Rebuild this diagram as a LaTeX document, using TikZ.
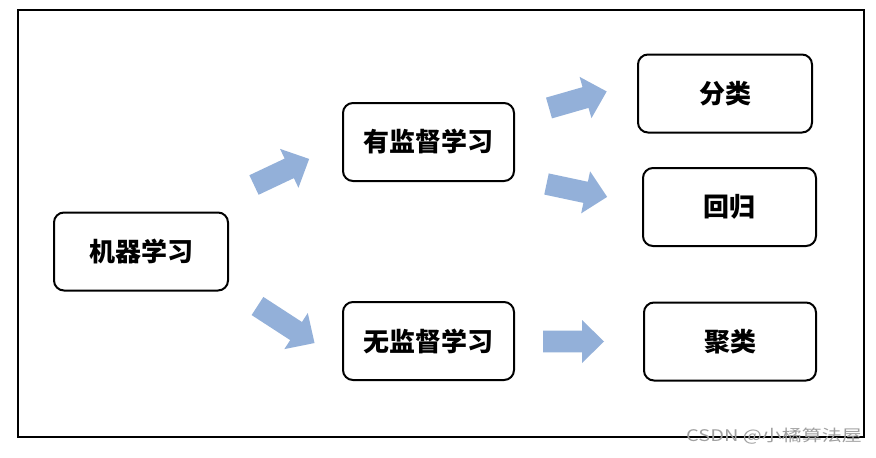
\documentclass[tikz,border=0pt]{standalone}
\usepackage{fontspec}
\newfontfamily\cjk{Noto Sans CJK SC}
\definecolor{arrowblue}{HTML}{93B0D9}
\definecolor{wmgray}{HTML}{A0A0A0}
\begin{document}
\begin{tikzpicture}[x=1pt,y=-1pt,
  box/.style={draw=black, line width=2pt, rounded corners=10pt, fill=white,
    minimum height=78pt, inner sep=0pt, font=\cjk\bfseries\fontsize{26}{30}\selectfont},
  blockarrow/.pic={\fill[arrowblue] (0,-10.8) -- ({#1-22},-10.8) -- ({#1-22},-21.5) -- (#1,0)
     -- ({#1-22},21.5) -- ({#1-22},10.8) -- (0,10.8) -- cycle;}]
\useasboundingbox (0,0) rectangle (876,458);
\fill[white] (0,0) rectangle (876,458);
\draw[line width=2.8pt] (18,10) rectangle (864,437);

\node[box, minimum width=174pt] (ml)    at (141,251.5) {机器学习};
\node[box, minimum width=171pt] (sup)   at (428.5,142) {有监督学习};
\node[box, minimum width=171pt] (unsup) at (428.5,341) {无监督学习};
\node[box, minimum width=174pt] (cls)   at (725,93.5)  {分类};
\node[box, minimum width=173pt] (reg)   at (729.5,207) {回归};
\node[box, minimum width=172pt] (clu)   at (730,341.5) {聚类};

\pic[rotate=25.3] at (254,185) {blockarrow=61};
\pic[rotate=-33] at (257.5,306) {blockarrow=68};
\pic[rotate=16] at (549,108) {blockarrow=60};
\pic[rotate=-12] at (546.5,184) {blockarrow=62};
\pic at (543,341.5) {blockarrow=61};

\node[text=wmgray, font=\cjk\fontsize{16}{18}\selectfont, inner sep=0pt] (wm) at (774,436)
  {\scalebox{1.25}[1]{CSDN @小橘算法屋}};
\end{tikzpicture}
\end{document}
